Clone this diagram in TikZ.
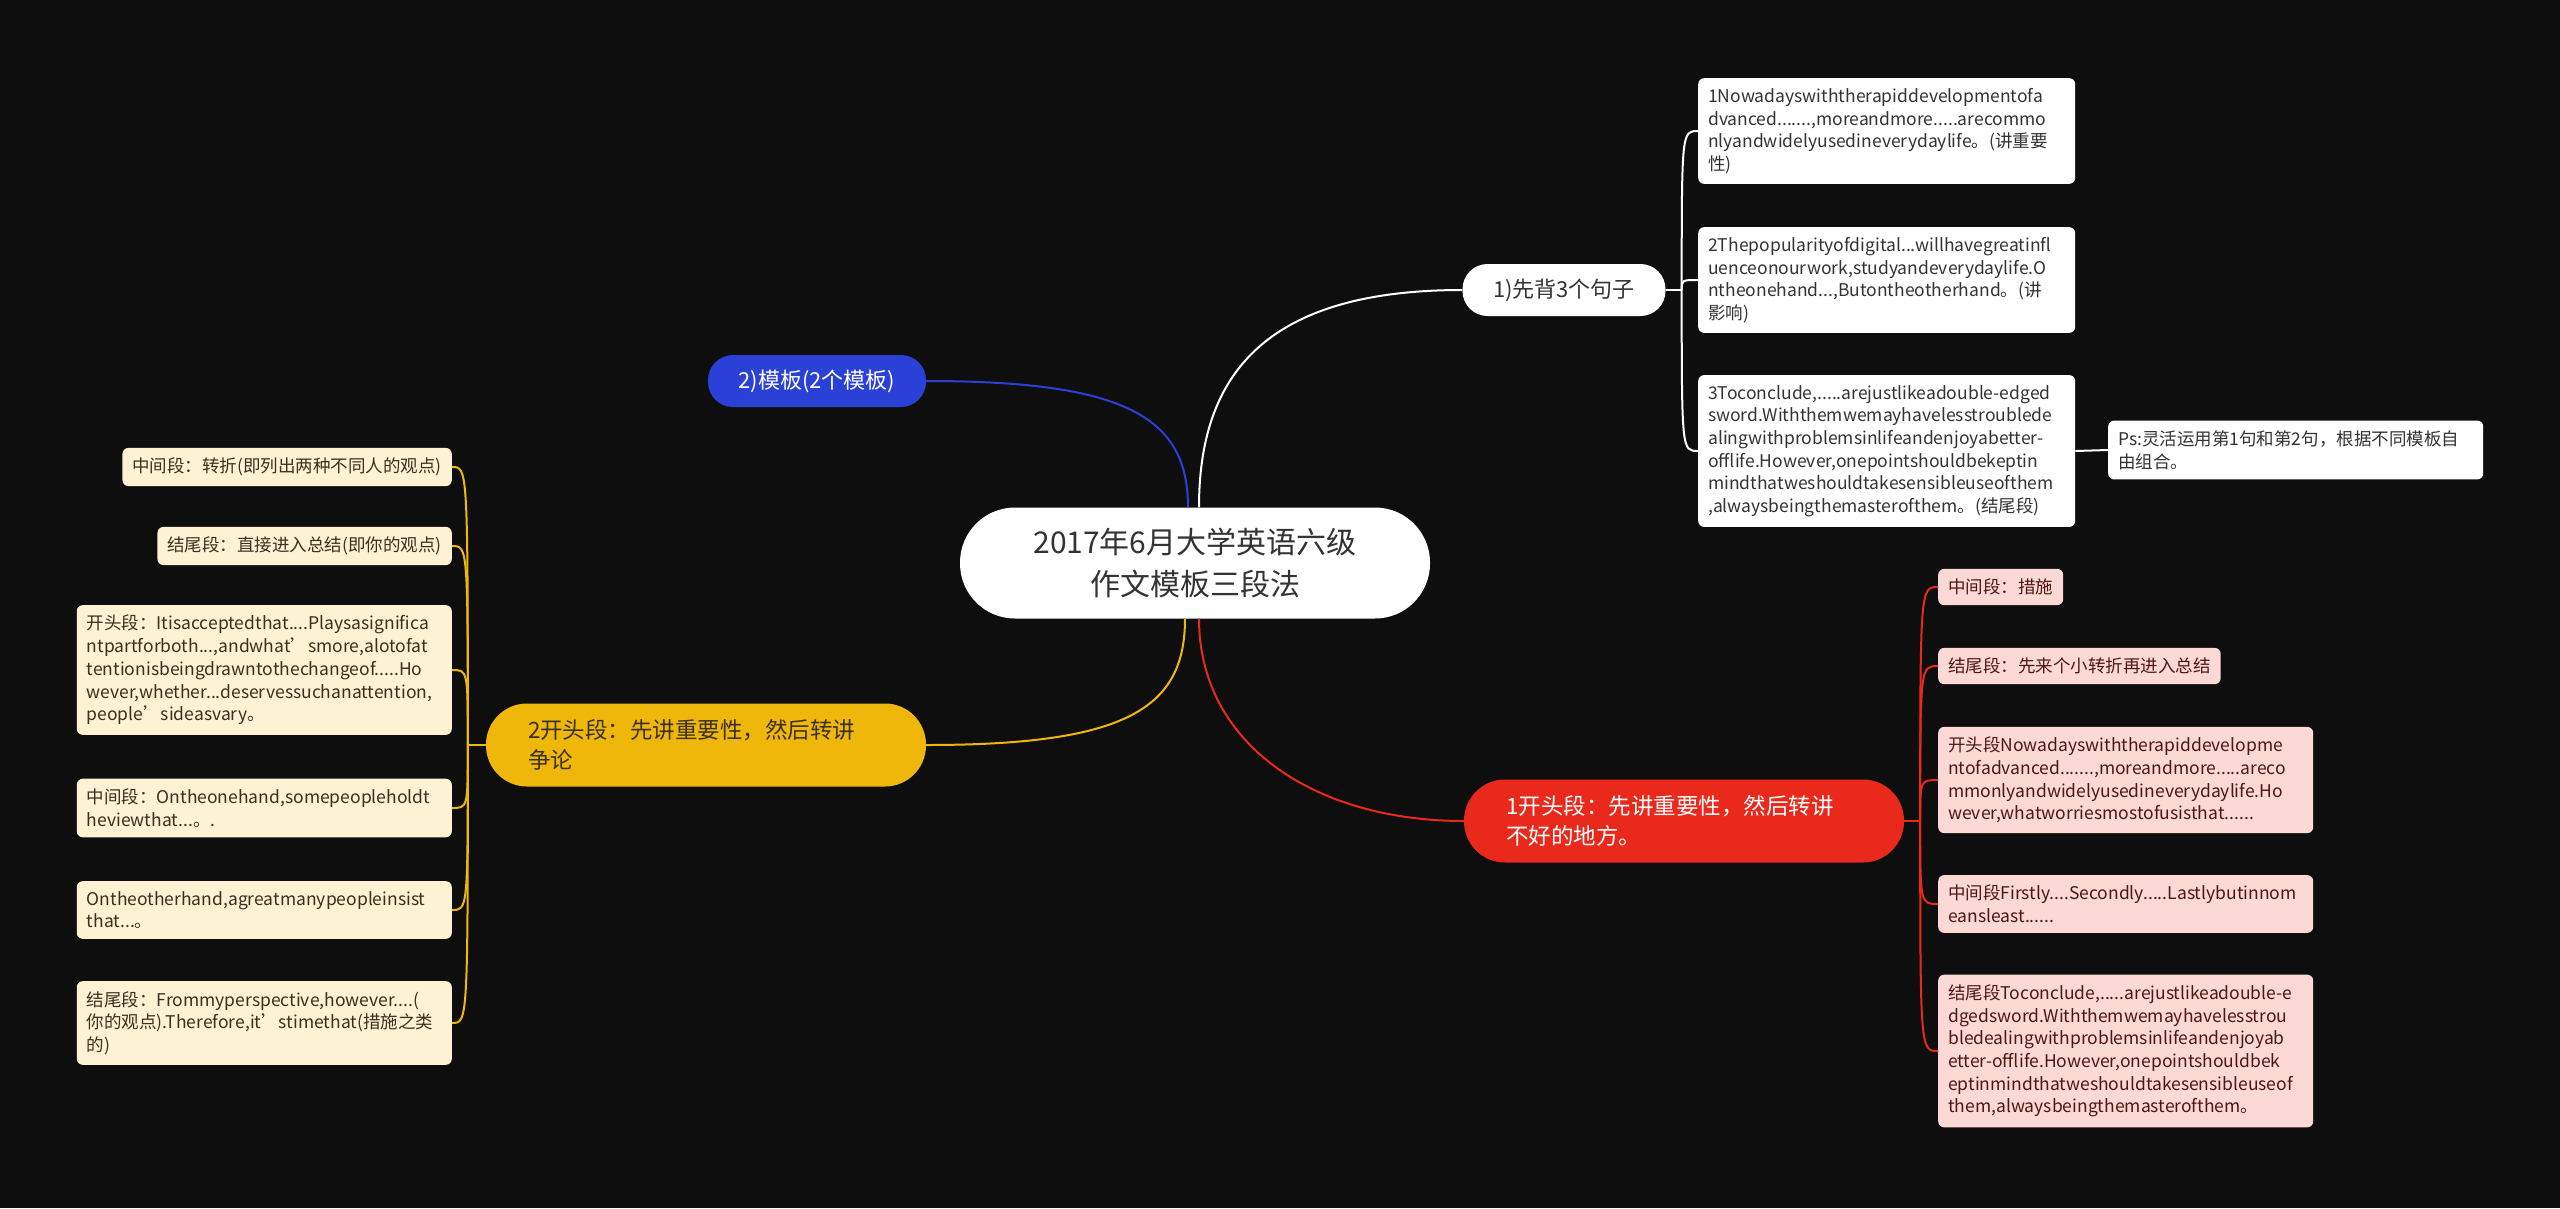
\documentclass[tikz,border=0pt]{standalone}
\usepackage{fontspec}
\setmainfont{Noto Sans CJK SC}
\usetikzlibrary{calc}

\definecolor{bgdark}{HTML}{0E0E0F}
\definecolor{redmain}{HTML}{E8291C}
\definecolor{bluemain}{HTML}{2B40D6}
\definecolor{yellowmain}{HTML}{F0B70B}
\definecolor{pinkleaf}{HTML}{FDD9D5}
\definecolor{creamleaf}{HTML}{FDF2D3}
\definecolor{inkgray}{HTML}{333333}
\definecolor{inkred}{HTML}{4E1712}
\definecolor{inkbrown}{HTML}{3A3020}

\begin{document}
\begin{tikzpicture}[x=1pt,y=1pt,
    root/.style={fill=white, text=inkgray, rounded corners=55pt, minimum width=470pt, minimum height=111pt, align=center, font=\fontsize{30}{42}\selectfont},
    branch/.style={rounded corners=25pt, minimum height=52pt, font=\fontsize{22}{30}\selectfont},
    bigbranch/.style={rounded corners=41pt, minimum height=83pt, inner xsep=42pt, text width=356pt, align=left, font=\fontsize{22.5}{30}\selectfont},
    leaf/.style={rounded corners=6pt, inner sep=10pt, align=left, font=\fontsize{17.5}{22.7}\selectfont},
    wide/.style={text width=355pt},
    leafw/.style={leaf, fill=white, text=inkgray},
    leafr/.style={leaf, fill=pinkleaf, text=inkred},
    leafy/.style={leaf, fill=creamleaf, text=inkbrown},
    wline/.style={draw=white, line width=2pt},
    bline/.style={draw=bluemain, line width=2pt},
    rline/.style={draw=redmain, line width=2pt},
    yline/.style={draw=yellowmain, line width=2pt}]

    \useasboundingbox (0,0) rectangle (2560,-1208);
    \fill [bgdark] (0,0) rectangle (2560,-1208);

    % centre and main branches
    \node [root] (root) at (1195,-563) {2017年6月大学英语六级\\作文模板三段法};
    \node [branch, fill=white, text=inkgray, minimum width=203pt] (b1) at (1564,-290) {1)先背3个句子};
    \node [branch, fill=bluemain, text=white, minimum width=218pt] (b2) at (817,-381) {2)模板(2个模板)};
    \node [bigbranch, fill=yellowmain, text=inkbrown] (b3) at (706,-745) {2开头段：先讲重要性，然后转讲\\争论};
    \node [bigbranch, fill=redmain, text=white] (b4) at (1684,-821) {1开头段：先讲重要性，然后转讲\\不好的地方。};

    \draw [wline] ([xshift=4pt]root.north) .. controls +(0,130) and +(-200,0) .. (b1.west);
    \draw [bline] ([xshift=-7pt]root.north) .. controls +(0,90) and +(200,0) .. (b2.east);
    \draw [yline] ([xshift=-10pt]root.south) .. controls +(0,-90) and +(200,0) .. (b3.east);
    \draw [rline] ([xshift=4pt]root.south) .. controls +(0,-125) and +(-150,0) .. (b4.west);

    % sentences
    \node [leafw, text width=357pt, anchor=west] (s1) at (1698,-131) {1Nowadayswiththerapiddevelopmentofa\\dvanced.......,moreandmore.....arecommo\\nlyandwidelyusedineverydaylife。(讲重要\\性)};
    \node [leafw, text width=357pt, anchor=west] (s2) at (1698,-280) {2Thepopularityofdigital...willhavegreatinfl\\uenceonourwork,studyandeverydaylife.O\\ntheonehand...,Butontheotherhand。(讲\\影响)};
    \node [leafw, text width=357pt, anchor=west] (s3) at (1698,-451) {3Toconclude,.....arejustlikeadouble-edged\\sword.Withthemwemayhavelesstroublede\\alingwithproblemsinlifeandenjoyabetter-\\offlife.However,onepointshouldbekeptin\\mindthatweshouldtakesensibleuseofthem\\,alwaysbeingthemasterofthem。(结尾段)};
    \node [leafw, wide, anchor=west] (ps) at (2108,-450) {Ps:灵活运用第1句和第2句，根据不同模板自\\由组合。};

    \coordinate (wj) at ([xshift=16pt]b1.east);
    \draw [wline] (b1.east) -- (wj);
    \foreach \n in {s1,s2,s3}
        \draw [wline] (wj) .. controls (wj |- \n.west) .. (\n.west);
    \draw [wline] (s3.east) -- (ps.west);

    % red side
    \node [leafr, anchor=west] (r1) at (1938,-587) {中间段：措施};
    \node [leafr, anchor=west] (r2) at (1938,-666) {结尾段：先来个小转折再进入总结};
    \node [leafr, wide, anchor=west] (r3) at (1938,-780) {开头段Nowadayswiththerapiddevelopme\\ntofadvanced.......,moreandmore.....areco\\mmonlyandwidelyusedineverydaylife.Ho\\wever,whatworriesmostofusisthat......};
    \node [leafr, wide, anchor=west] (r4) at (1938,-904) {中间段Firstly....Secondly.....Lastlybutinnom\\eansleast......};
    \node [leafr, wide, anchor=west] (r5) at (1938,-1051) {结尾段Toconclude,.....arejustlikeadouble-e\\dgedsword.Withthemwemayhavelesstrou\\bledealingwithproblemsinlifeandenjoyab\\etter-offlife.However,onepointshouldbek\\eptinmindthatweshouldtakesensibleuseof\\them,alwaysbeingthemasterofthem。};

    \coordinate (rj) at ([xshift=16pt]b4.east);
    \draw [rline] (b4.east) -- (rj);
    \foreach \n in {r1,r2,r3,r4,r5}
        \draw [rline] (rj) .. controls (rj |- \n.west) .. (\n.west);

    % yellow side
    \node [leafy, anchor=east] (y1) at (452,-467) {中间段：转折(即列出两种不同人的观点)};
    \node [leafy, anchor=east] (y2) at (452,-546) {结尾段：直接进入总结(即你的观点)};
    \node [leafy, wide, anchor=east] (y3) at (452,-670) {开头段：Itisacceptedthat....Playsasignifica\\ntpartforboth...,andwhat’smore,alotofat\\tentionisbeingdrawntothechangeof.....Ho\\wever,whether...deservessuchanattention,\\people’sideasvary。};
    \node [leafy, wide, anchor=east] (y4) at (452,-808) {中间段：Ontheonehand,somepeopleholdt\\heviewthat...。.};
    \node [leafy, wide, anchor=east] (y5) at (452,-910) {Ontheotherhand,agreatmanypeopleinsist\\that...。};
    \node [leafy, wide, anchor=east] (y6) at (452,-1023) {结尾段：Frommyperspective,however....(\\你的观点).Therefore,it’stimethat(措施之类\\的)};

    \coordinate (yj) at ([xshift=-18pt]b3.west);
    \draw [yline] (b3.west) -- (yj);
    \foreach \n in {y1,y2,y3,y4,y5,y6}
        \draw [yline] (yj) .. controls (yj |- \n.east) .. (\n.east);
  \end{tikzpicture}
\end{document}
